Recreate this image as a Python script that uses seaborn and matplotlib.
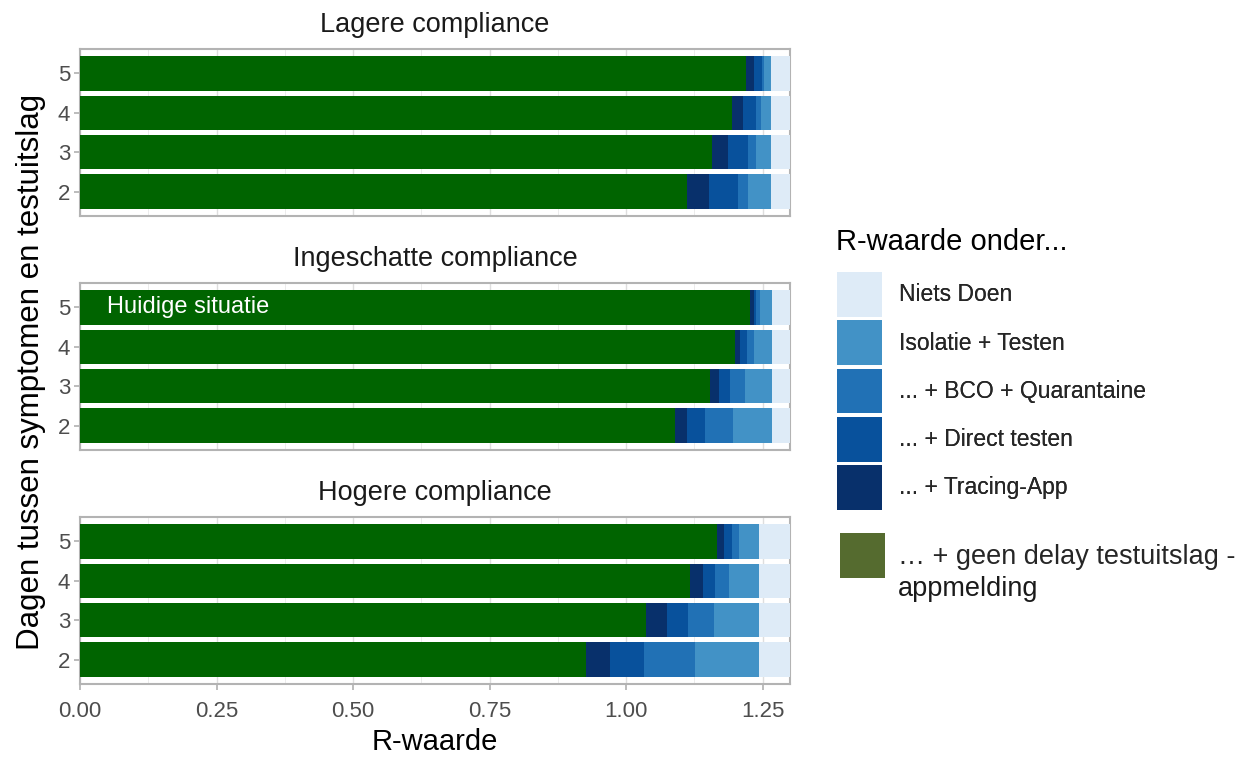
import numpy as np
import pandas as pd
import seaborn as sns
import matplotlib.pyplot as plt
from matplotlib.patches import Patch
from matplotlib.ticker import MultipleLocator

panels = ['Lagere compliance', 'Ingeschatte compliance', 'Hogere compliance']
dagen = [5, 4, 3, 2]

series = ['Niets Doen', 'Isolatie + Testen', '... + BCO + Quarantaine',
          '... + Direct testen', '... + Tracing-App']
green_label = ['… + geen delay testuitslag -', 'appmelding']

# values per panel, rows in order of dagen (5, 4, 3, 2)
niets_doen = [[1.31, 1.31, 1.31, 1.31], [1.31, 1.31, 1.31, 1.31], [1.31, 1.31, 1.31, 1.31]]
isolatie = [[1.266, 1.266, 1.266, 1.266], [1.267, 1.267, 1.267, 1.267], [1.243, 1.243, 1.243, 1.243]]
bco = [[1.252, 1.246, 1.237, 1.224], [1.245, 1.234, 1.217, 1.196], [1.206, 1.188, 1.161, 1.126]]
direct = [[1.249, 1.238, 1.224, 1.205], [1.238, 1.221, 1.191, 1.144], [1.194, 1.163, 1.113, 1.033]]
tracing = [[1.234, 1.214, 1.187, 1.151], [1.234, 1.208, 1.170, 1.111], [1.180, 1.140, 1.075, 0.970]]
geen_delay = [[1.219, 1.193, 1.158, 1.112], [1.226, 1.199, 1.154, 1.089], [1.166, 1.116, 1.037, 0.927]]

colors = ['#deebf7', '#4292c6', '#2171b5', '#08519c', '#08306b']
green = '#006400'
green_legend = '#556b2f'

rows = []
for p, name in enumerate(panels):
    for i, d in enumerate(dagen):
        rows.append({'panel': name, 'dag': d,
                     series[0]: niets_doen[p][i], series[1]: isolatie[p][i],
                     series[2]: bco[p][i], series[3]: direct[p][i],
                     series[4]: tracing[p][i], 'geen delay': geen_delay[p][i]})
df = pd.DataFrame(rows)

sns.set_theme(style='white')
plt.rcParams['font.family'] = ['Liberation Sans', 'DejaVu Sans']

fig = plt.figure(figsize=(12.45, 7.57), dpi=100)
W, H = 1245, 757
panel_tops = [49, 283, 517]
ph = 167

for p, name in enumerate(panels):
    top = panel_tops[p]
    ax = fig.add_axes([80 / W, 1 - (top + ph) / H, 710 / W, ph / H])
    sub = df[df['panel'] == name]
    for s, c in zip(series + ['geen delay'], colors + [green]):
        sns.barplot(data=sub, x=s, y='dag', order=dagen, orient='h', color=c,
                    width=0.87, saturation=1, linewidth=0, edgecolor='none',
                    ax=ax, zorder=3)
    ax.set_xlim(0, 1.30)
    ax.set_ylim(3.62, -0.62)
    ax.xaxis.set_major_locator(MultipleLocator(0.25))
    ax.xaxis.set_minor_locator(MultipleLocator(0.125))
    ax.grid(True, which='major', axis='both', color='#dedede', lw=1.0, zorder=0)
    ax.grid(True, which='minor', axis='x', color='#ececec', lw=0.7, zorder=0)
    ax.set_axisbelow(True)
    for sp in ax.spines.values():
        sp.set_color('#b3b3b3')
        sp.set_linewidth(1.5)
    ax.set_xlabel('')
    ax.set_ylabel('')
    ax.set_title(name, fontsize=19.5, color='#1a1a1a', pad=12)
    ax.tick_params(axis='y', left=True, length=4, color='#b3b3b3',
                   labelsize=16, labelcolor='#4d4d4d', pad=3)
    if p < 2:
        ax.tick_params(axis='x', bottom=False, labelbottom=False)
    else:
        ax.tick_params(axis='x', which='major', bottom=True, length=4,
                       color='#b3b3b3', labelsize=16, labelcolor='#4d4d4d', pad=8)
        ax.tick_params(axis='x', which='minor', bottom=False)
    if p == 1:
        ax.text(0.05, 0, 'Huidige situatie', color='white', fontsize=17,
                va='center', ha='left', zorder=5)

fig.text(435 / W, 1 - 742 / H, 'R-waarde', ha='center', va='center',
         fontsize=21, color='#000000')
fig.text(31 / W, 1 - 372 / H, 'Dagen tussen symptomen en testuitslag',
         rotation=90, ha='center', va='center', fontsize=22.5, color='#000000')

# legend for the blue series
fig.text(836 / W, 1 - 242 / H, 'R-waarde onder...', ha='left', va='center',
         fontsize=21, color='#000000')
handles = [Patch(facecolor=c, edgecolor='none') for c in colors]
leg1 = fig.legend(handles, series, loc='upper left',
                  bbox_to_anchor=(837 / W, 1 - 272 / H), frameon=False,
                  fontsize=16.5, handlelength=1.95, handleheight=2.62,
                  labelspacing=0.16, handletextpad=0.75, borderpad=0,
                  borderaxespad=0)

# legend for the green bars
leg2 = fig.legend([Patch(facecolor=green_legend, edgecolor='none')], [green_label[0]],
                  loc='upper left', bbox_to_anchor=(840 / W, 1 - 533 / H),
                  frameon=False, fontsize=19.5, handlelength=1.65, handleheight=2.2,
                  handletextpad=0.5, borderpad=0, borderaxespad=0)
fig.add_artist(leg1)
fig.text(898 / W, 1 - 589 / H, green_label[1], ha='left', va='center',
         fontsize=19.5, color='#1a1a1a')

fig.savefig('out.png', dpi=100)
